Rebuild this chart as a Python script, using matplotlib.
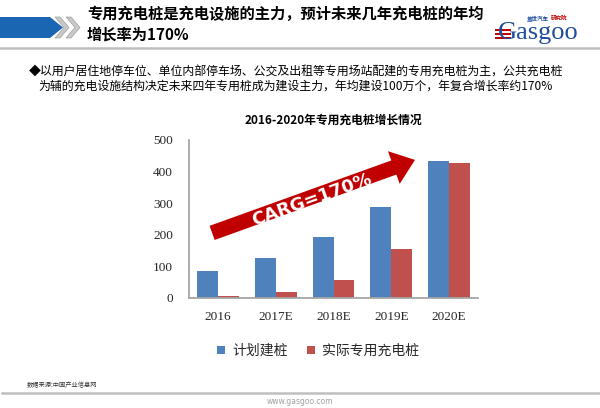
import numpy as np
import matplotlib
matplotlib.use("Agg")
import matplotlib.pyplot as plt
from matplotlib.patches import Polygon, Rectangle
from matplotlib.lines import Line2D

plt.rcParams['font.family'] = ['Noto Sans CJK SC', 'DejaVu Sans']

years = ['2016', '2017E', '2018E', '2019E', '2020E']
planned = [84, 128, 192, 289, 435]
actual = [6, 20, 58, 156, 426]
yticks = [0, 100, 200, 300, 400, 500]

title = "专用充电桩是充电设施的主力，预计未来几年充电桩的年均\n增长率为170%"
sub1 = "◆以用户居住地停车位、单位内部停车场、公交及出租等专用场站配建的专用充电桩为主，公共充电桩"
sub2 = "为辅的充电设施结构决定未来四年专用桩成为建设主力，年均建设100万个，年复合增长率约170%"
chart_title = "2016-2020年专用充电桩增长情况"
source = "数据来源:中国产业信息网"

W, H = 600, 408
fig = plt.figure(figsize=(W / 100, H / 100), dpi=100)


def px(x, y):
    return (x / W, 1 - y / H)


# header banner
fig.add_artist(Polygon([px(0, 17), px(50, 17), px(63, 27.5), px(50, 38), px(0, 38)],
                       closed=True, transform=fig.transFigure, fc='#1A66B3', ec='none'))
for x0 in (55, 66):
    fig.add_artist(Polygon([px(x0, 17), px(x0 + 5, 17), px(x0 + 14, 27.5), px(x0 + 5, 38),
                            px(x0, 38), px(x0 + 9, 27.5)],
                           closed=True, transform=fig.transFigure, fc='#C8C8C8', ec='#A0A0A0', lw=0.5))
fig.text(*px(87, 24), title, fontsize=11, fontweight='bold', va='center', ha='left',
         linespacing=1.35)
fig.add_artist(Line2D([0, 1], [px(0, 48)[1]] * 2, transform=fig.transFigure, color='#BFBFBF', lw=1.8))

# logo
fig.text(*px(527, 18), "盖世汽车", fontsize=4, color='#1F4E9A', va='center', ha='left', fontweight='bold')
fig.text(*px(551, 18), "研究院", fontsize=4, color='#C00000', va='center', ha='left', fontweight='bold')
fig.text(*px(498, 39), "Gasgoo", fontsize=19, color='#1F4E9A', va='baseline', ha='left',
         family='Liberation Serif')
for yy in (29, 33, 37):
    fig.add_artist(Rectangle(px(495, yy + 1.8), 16 / W, 1.8 / H, transform=fig.transFigure,
                             fc='#C00000', ec='none'))

# subtitle
fig.text(*px(29, 72), sub1, fontsize=8.6, va='center', ha='left')
fig.text(*px(38, 86), sub2, fontsize=8.6, va='center', ha='left')

# chart
ax = fig.add_axes([189 / W, 1 - 298 / H, (478 - 189) / W, (298 - 140) / H])
x = np.arange(len(years))
bw = 0.36
ax.bar(x - bw / 2, planned, bw, color='#4F81BD', label='计划建桩', zorder=2)
ax.bar(x + bw / 2, actual, bw, color='#C0504D', label='实际专用充电桩', zorder=2)
ax.set_xlim(-0.5, 4.5)
ax.set_ylim(0, 500)
ax.set_yticks(yticks)
ax.set_xticks(x)
ax.set_xticklabels(years)
for s in ('top', 'right'):
    ax.spines[s].set_visible(False)
for s in ('left', 'bottom'):
    ax.spines[s].set_color('#A6A6A6')
    ax.spines[s].set_linewidth(1.3)
ax.tick_params(length=0, labelsize=9.5, colors='#262626')
ax.tick_params(axis='y', pad=11.5)
ax.tick_params(axis='x', pad=9)
for lab in ax.get_xticklabels() + ax.get_yticklabels():
    lab.set_family('Liberation Serif')

ax.set_title(chart_title, fontsize=8.5, fontweight='bold', pad=12)

# growth arrow
ax.annotate('', xy=(3.41, 437), xytext=(-0.10, 206),
            arrowprops=dict(arrowstyle='simple,head_width=1.25,head_length=0.81,tail_width=0.54',
                            mutation_scale=20, fc='#C00000', ec='none', shrinkA=0, shrinkB=0),
            annotation_clip=False, zorder=3)
ax.text(1.62, 312, "CARG=170%", rotation=19.8, color='white', fontsize=13, fontweight='bold',
        ha='center', va='center', family='DejaVu Sans', zorder=4, rotation_mode='anchor')

leg = fig.legend(loc='center', bbox_to_anchor=px(318, 350.7), ncol=2, frameon=False,
                 fontsize=10, handlelength=0.6, handleheight=0.5, handletextpad=0.5,
                 columnspacing=1.4, borderpad=0)
for t in leg.get_texts():
    t.set_color('#262626')

# footer
fig.text(*px(27, 385), source, fontsize=4.5, color='#333333', va='center', ha='left')
fig.add_artist(Line2D([px(2, 0)[0], 1], [px(0, 393)[1]] * 2, transform=fig.transFigure,
                      color='#BFBFBF', lw=1.8))
fig.text(*px(300, 402), "www.gasgoo.com", fontsize=5.5, color='#A0A0A0', va='center', ha='center',
         family='DejaVu Sans')

fig.savefig('out.png', dpi=100)
